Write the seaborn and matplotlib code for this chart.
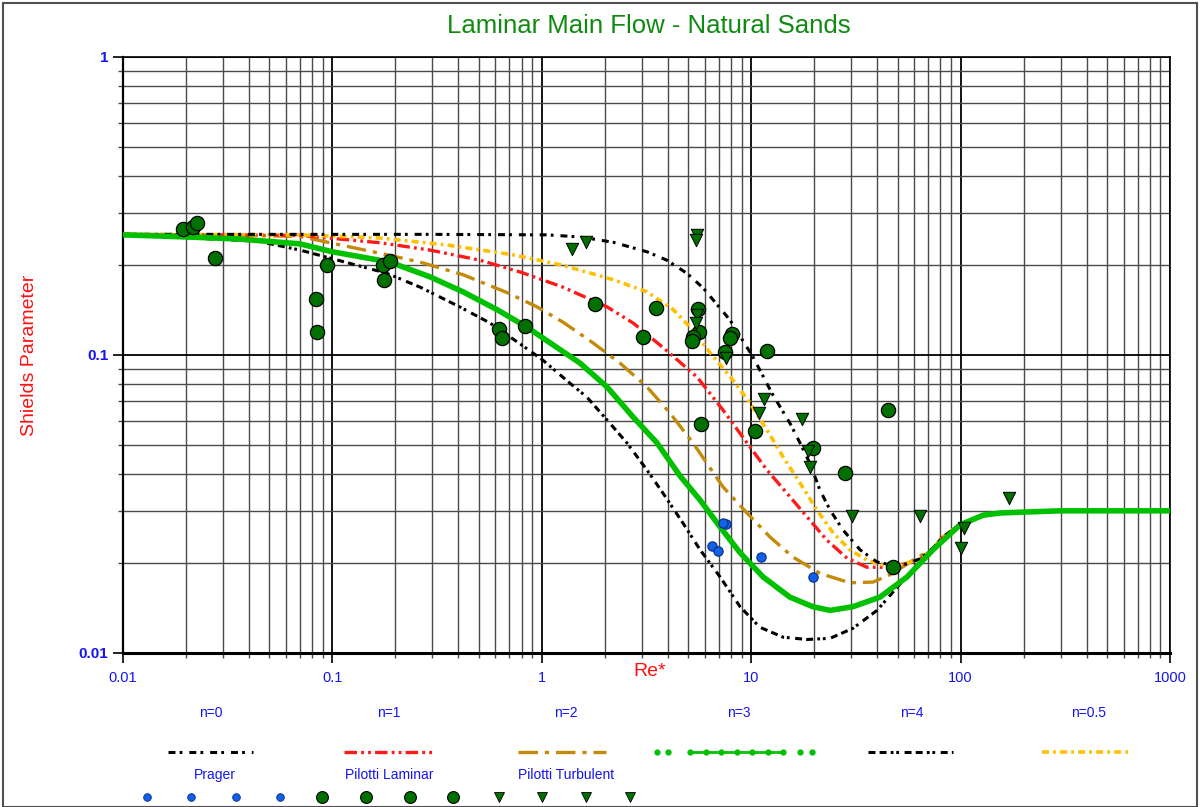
import matplotlib
matplotlib.use("Agg")
import matplotlib.pyplot as plt
import seaborn as sns
from matplotlib.patches import Rectangle
from matplotlib.ticker import LogLocator, FuncFormatter, NullFormatter

# ---------------- data ----------------
title_text = "Laminar Main Flow - Natural Sands"
x_label = "Re*"
y_label = "Shields Parameter"

# n = 0 (upper black dash-dot)
n0_re = [0.01, 0.3, 1.06, 1.52, 2.19, 3.18, 3.96, 4.93, 5.89, 7.92, 10.2, 12.7, 15.3, 17.1, 19.1, 21.3, 23.8, 27.4,
         33.1, 39.9, 47.5, 55, 64, 73.8, 82.4, 99.3, 128, 154, 199, 300, 1000]
n0_th = [0.254, 0.254, 0.253, 0.249, 0.239, 0.222, 0.208, 0.188, 0.168, 0.131, 0.0985, 0.0734, 0.0591, 0.0507, 0.0432,
         0.0352, 0.0302, 0.0259, 0.0222, 0.0202, 0.0197, 0.0199, 0.0207, 0.0225, 0.0245, 0.0270, 0.0290, 0.0295,
         0.0297, 0.030, 0.030]

# n = 0.5 (yellow)
n05_re = [0.01, 0.07, 0.169, 0.352, 0.727, 1.26, 2.19, 3.18, 4.24, 5.11, 6.35, 8.18, 9.87, 11.9, 14.2, 17.1, 20.6,
          24.6, 29.6, 35.7, 42.6, 51.4, 64, 73.8, 82.4, 99.3, 128, 154, 199, 300, 1000]
n05_th = [0.254, 0.253, 0.247, 0.234, 0.217, 0.200, 0.179, 0.163, 0.142, 0.124, 0.102, 0.0824, 0.0690, 0.0560,
          0.0455, 0.0372, 0.0302, 0.0253, 0.0222, 0.0205, 0.0197, 0.0198, 0.0206, 0.0224, 0.0245, 0.0270, 0.0290,
          0.0295, 0.0297, 0.030, 0.030]

# n = 1 (red)
n1_re = [0.01, 0.07, 0.169, 0.292, 0.507, 0.787, 1.26, 2.05, 2.73, 3.79, 5.51, 7.33, 9.55, 11.9, 14.8, 18.5, 23.0,
         28.7, 35.7, 44.6, 51.4, 64, 73.8, 82.4, 99.3, 128, 154, 199, 300, 1000]
n1_th = [0.254, 0.252, 0.238, 0.225, 0.208, 0.190, 0.169, 0.145, 0.128, 0.106, 0.0844, 0.0654, 0.0507, 0.0411,
         0.0344, 0.0286, 0.0239, 0.0208, 0.0194, 0.0194, 0.0197, 0.0206, 0.0224, 0.0245, 0.0270, 0.0290, 0.0295,
         0.0297, 0.030, 0.030]

# n = 2 (brown)
n2_re = [0.01, 0.03, 0.07, 0.182, 0.262, 0.42, 0.682, 0.949, 1.26, 1.75, 2.36, 3.18, 4.09, 5.27, 7.33, 9.55, 12.3,
         15.8, 21.3, 29.6, 38.2, 47.5, 59.3, 73.8, 82.4, 99.3, 128, 154, 199, 300, 1000]
n2_th = [0.254, 0.253, 0.250, 0.217, 0.205, 0.186, 0.162, 0.145, 0.129, 0.110, 0.094, 0.0781, 0.0639, 0.0507,
         0.0361, 0.0295, 0.0245, 0.0210, 0.0185, 0.0172, 0.0173, 0.0185, 0.0205, 0.0224, 0.0245, 0.0270, 0.0290,
         0.0295, 0.0297, 0.030, 0.030]

# n = 3 (green, solid)
n3_re = [0.01, 0.02, 0.036, 0.07, 0.1, 0.188, 0.292, 0.42, 0.611, 0.849, 1.18, 1.52, 2.05, 2.73, 3.55, 4.57, 5.70,
         7.10, 8.85, 11.4, 15.3, 19.7, 23.8, 30.6, 41.2, 55.5, 73.8, 99.3, 128, 154, 199, 300, 1000]
n3_th = [0.253, 0.249, 0.245, 0.236, 0.222, 0.205, 0.183, 0.163, 0.142, 0.124, 0.106, 0.094, 0.0781, 0.0619,
         0.0507, 0.0393, 0.0326, 0.0265, 0.0217, 0.0180, 0.0154, 0.0143, 0.0139, 0.0143, 0.0154, 0.0180, 0.0222,
         0.0269, 0.0290, 0.0295, 0.0297, 0.030, 0.030]

# n = 4 (lower black)
n4_re = [0.01, 0.021, 0.044, 0.07, 0.182, 0.262, 0.406, 0.566, 0.849, 1.01, 1.36, 1.64, 2.05, 2.55, 3.18, 3.79,
         4.72, 5.70, 7.10, 8.85, 11.0, 14.2, 18.5, 23.8, 30.6, 39.9, 49.7, 64.0, 82.4, 99.3, 128, 154, 199, 300, 1000]
n4_th = [0.254, 0.247, 0.241, 0.225, 0.188, 0.169, 0.145, 0.128, 0.105, 0.0962, 0.0805, 0.0723, 0.0605, 0.0507,
         0.0411, 0.0344, 0.0273, 0.0222, 0.0180, 0.0143, 0.0122, 0.0113, 0.0111, 0.0112, 0.0121, 0.0139, 0.0166,
         0.0202, 0.0245, 0.0270, 0.0290, 0.0295, 0.0297, 0.030, 0.030]

prager_re = [7.59, 7.34, 6.50, 6.95, 11.1, 19.7]
prager_th = [0.0271, 0.0273, 0.0229, 0.0220, 0.0210, 0.0180]

lam_re = [0.0194, 0.0216, 0.0226, 0.0275, 0.0942, 0.0835, 0.0844, 0.175, 0.188, 0.176, 0.625, 0.646, 0.832,
          1.80, 3.51, 3.04, 5.57, 5.63, 5.27, 5.21, 8.09, 7.92, 7.50, 11.9, 5.76, 10.4, 45.0, 19.7, 28.1, 47.5]
lam_th = [0.265, 0.269, 0.277, 0.212, 0.200, 0.154, 0.119, 0.200, 0.207, 0.179, 0.122, 0.114, 0.125,
          0.148, 0.144, 0.115, 0.143, 0.119, 0.115, 0.111, 0.118, 0.114, 0.102, 0.103, 0.0587, 0.0556, 0.0654,
          0.0488, 0.0402, 0.0194]

turb_re = [1.39, 1.63, 5.51, 5.45, 5.51, 5.45, 7.59, 11.5, 10.9, 17.5, 18.7, 19.1, 30.3, 64.0, 104, 100, 170]
turb_th = [0.227, 0.239, 0.253, 0.243, 0.136, 0.128, 0.0977, 0.0711, 0.0639, 0.0610, 0.0476, 0.0421, 0.0288,
           0.0288, 0.0263, 0.0225, 0.0331]

# ---------------- style ----------------
sns.set_style("white")
plt.rcParams["font.family"] = ["Liberation Sans", "DejaVu Sans"]
plt.rcParams["lines.scale_dashes"] = False

BLUE = "#1515F0"
RED = "#FF1010"
C_N0, C_N05, C_N1, C_N2, C_N3, C_N4 = "black", "#FFC000", "#FF1A1A", "#C48A0A", "#00C000", "black"
D_N0 = (5, 3, 2, 5)
D_N05 = (5, 3, 2, 3)
D_N1 = (9, 3, 2, 3, 2, 3)
D_N2 = (14, 5, 3, 5)
D_N4 = (5, 3, 5, 3, 2, 2, 2, 4)

fig = plt.figure(figsize=(12, 8.07), dpi=100)
W, H = 1200, 807
L, R, T, B = 123, 1170, 57, 653
ax = fig.add_axes([L / W, 1 - B / H, (R - L) / W, (B - T) / H])
ax.set_xscale("log")
ax.set_yscale("log")
ax.set_xlim(0.01, 1000)
ax.set_ylim(0.01, 1)

ax.xaxis.set_major_locator(LogLocator(base=10, numticks=20))
ax.yaxis.set_major_locator(LogLocator(base=10, numticks=20))
ax.xaxis.set_minor_locator(LogLocator(base=10, subs=range(2, 10), numticks=50))
ax.yaxis.set_minor_locator(LogLocator(base=10, subs=range(2, 10), numticks=50))
ax.grid(which="major", color="black", lw=1.3, zorder=0)
ax.grid(which="minor", color="#4a4a4a", lw=1.0, zorder=0)
ax.set_axisbelow(True)

fmt = FuncFormatter(lambda v, p: f"{v:g}")
ax.xaxis.set_major_formatter(fmt)
ax.yaxis.set_major_formatter(fmt)
ax.xaxis.set_minor_formatter(NullFormatter())
ax.yaxis.set_minor_formatter(NullFormatter())
ax.tick_params(which="major", direction="out", length=7, width=1.2, color="black",
               labelcolor=BLUE, labelsize=10.5, bottom=True, left=True)
ax.tick_params(which="minor", direction="out", length=3.5, width=1.0, color="#4a4a4a",
               bottom=True, left=True)
ax.tick_params(axis="x", which="major", pad=6)
for lbl in ax.get_yticklabels():
    lbl.set_fontweight("bold")
    lbl.set_fontsize(11)

for s in ax.spines.values():
    s.set_color("black")
    s.set_linewidth(1.2)
ax.spines["bottom"].set_linewidth(2.2)
ax.spines["left"].set_linewidth(1.6)

# curves
curves = [
    (n4_re, n4_th, C_N4, 2.2, D_N4),
    (n2_re, n2_th, C_N2, 2.4, D_N2),
    (n1_re, n1_th, C_N1, 2.4, D_N1),
    (n05_re, n05_th, C_N05, 2.6, D_N05),
    (n0_re, n0_th, C_N0, 2.2, D_N0),
]
for xs, ys, col, lw, dsh in curves:
    sns.lineplot(x=xs, y=ys, ax=ax, color=col, lw=lw, estimator=None, sort=False, zorder=3)
    ax.lines[-1].set_dashes(dsh)
sns.lineplot(x=n3_re, y=n3_th, ax=ax, color=C_N3, lw=4.0, estimator=None, sort=False, zorder=4)

# points
sns.scatterplot(x=prager_re, y=prager_th, ax=ax, marker="o", s=45, color="#1060E8",
                edgecolor="#0a2a80", linewidth=0.8, zorder=6)
sns.scatterplot(x=lam_re, y=lam_th, ax=ax, marker="o", s=105, color="#007000",
                edgecolor="black", linewidth=0.9, zorder=6)
sns.scatterplot(x=turb_re, y=turb_th, ax=ax, marker="v", s=80, color="#007000",
                edgecolor="black", linewidth=0.7, zorder=6)

ax.set_xlabel("")
ax.set_ylabel("")

fig.text(649 / W, 1 - 26 / H, title_text, color="#108A10", fontsize=18.5, ha="center", va="center")
fig.text(30 / W, 1 - 355 / H, y_label, color=RED, fontsize=14, rotation=90, ha="center", va="center")
fig.text(650 / W, 1 - 672 / H, x_label, color=RED, fontsize=14, ha="center", va="center")

# ---------------- legend (Excel style: label above sample) ----------------
lax = fig.add_axes([0, 0, 1, 1])
lax.set_xlim(0, W)
lax.set_ylim(H, 0)
lax.axis("off")
lax.patch.set_visible(False)

leg_lines = [
    ("n=0", 211, 168, 253, C_N0, 2.2, D_N0),
    ("n=1", 389, 344, 433, C_N1, 2.4, D_N1),
    ("n=2", 566, 518, 606, C_N2, 2.4, D_N2),
    ("n=4", 912, 868, 953, C_N4, 2.2, D_N4),
    ("n=0.5", 1089, 1042, 1130, C_N05, 2.6, D_N05),
]
for lab, cx, x0, x1, col, lw, dsh in leg_lines:
    lax.text(cx, 713, lab, color=BLUE, fontsize=10, ha="center", va="center")
    ln, = lax.plot([x0, x1], [752, 752], color=col, lw=lw)
    ln.set_dashes(dsh)
lax.text(739, 713, "n=3", color=BLUE, fontsize=10, ha="center", va="center")
lax.plot([690, 783], [752, 752], color=C_N3, lw=2.0)
lax.plot([657, 668, 690, 706, 721, 737, 752, 768, 783, 800, 812], [752] * 11,
         ls="none", marker="o", ms=3.5, color=C_N3)

lax.text(215, 775, "Prager", color=BLUE, fontsize=10, ha="center", va="center")
lax.text(389, 775, "Pilotti Laminar", color=BLUE, fontsize=10, ha="center", va="center")
lax.text(566, 775, "Pilotti Turbulent", color=BLUE, fontsize=10, ha="center", va="center")
lax.plot([147, 191, 236, 280], [797] * 4, ls="none", marker="o", ms=5.5,
         color="#1060E8", mec="#0a2a80", mew=0.6)
lax.plot([322, 366, 410, 453], [797] * 4, ls="none", marker="o", ms=8.5,
         color="#007000", mec="black", mew=0.8)
lax.plot([499, 542, 586, 630], [797] * 4, ls="none", marker="v", ms=7.5,
         color="#007000", mec="black", mew=0.6)

fig.patches.append(Rectangle((3 / W, 0), 1 - 6 / W, 1 - 3 / H, transform=fig.transFigure,
                             fill=False, edgecolor="#505050", lw=1.5))

fig.savefig("out.png", dpi=100)
